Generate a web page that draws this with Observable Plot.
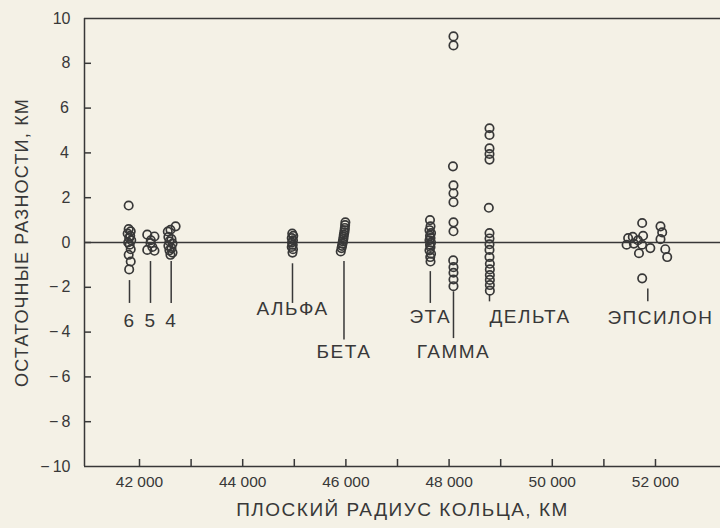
<!DOCTYPE html>
<html><head><meta charset="utf-8">
<script src="https://cdn.jsdelivr.net/npm/d3@7"></script>
<script src="https://cdn.jsdelivr.net/npm/@observablehq/plot@0.6"></script>
<style>
html,body{margin:0;padding:0;background:#f4f1e6;}
</style></head><body><div id="chart"></div>
<script>
// Axis settings
const xDomain = [40934, 53260];
const yDomain = [-10, 10];
const xMinorTicks = [42000, 43000, 44000, 45000, 46000, 47000, 48000, 49000, 50000, 51000, 52000];
const xTickValues = [42000, 44000, 46000, 48000, 50000, 52000];
const xTickLabels = ["42 000", "44 000", "46 000", "48 000", "50 000", "52 000"];
const yTickValues = [-10, -8, -6, -4, -2, 0, 2, 4, 6, 8, 10];
const yTickLabels = ["\u2212\u200910", "\u2212\u20098", "\u2212\u20096", "\u2212\u20094", "\u2212\u20092", "0", "2", "4", "6", "8", "10"];
const xTitle = "ПЛОСКИЙ РАДИУС КОЛЬЦА, КМ";
const yTitle = "ОСТАТОЧНЫЕ РАЗНОСТИ, КМ";

// Ring names and annotation data
const ringNames = ["6", "5", "4", "АЛЬФА", "БЕТА", "ЭТА", "ГАММА", "ДЕЛЬТА", "ЭПСИЛОН"];
const leaderX = [41806, 42213, 42614, 44965, 45963, 47636, 48085, 48783, 51851];
const leaderTop = [-1.7, -0.85, -0.85, -0.95, -0.85, -1.3, -2.2, -2.35, -2.08];
const leaderBottom = [-2.72, -2.72, -2.72, -2.72, -4.35, -2.72, -4.29, -2.65, -2.65];
const labelX = [41806, 42213, 42614, 44965, 45963, 47636, 48085, 48783, 52097];
const labelY = [-3.5, -3.5, -3.5, -2.95, -4.9, -3.3, -4.9, -3.3, -3.35];
const labelAnchor = ["middle", "middle", "middle", "middle", "middle", "middle", "middle", "start", "middle"];

// Residuals per ring: radius (km) and residual (km)
const ring6Radius = [41790, 41790, 41830, 41770, 41820, 41800, 41840, 41780, 41810, 41830, 41790, 41830, 41800];
const ring6Residual = [1.65, 0.6, 0.5, 0.4, 0.3, 0.2, 0.1, 0.0, -0.1, -0.3, -0.55, -0.85, -1.2];
const ring5Radius = [42150, 42290, 42220, 42213, 42150, 42290, 42250];
const ring5Residual = [0.35, 0.27, 0.1, -0.03, -0.33, -0.37, -0.2];
const ring4Radius = [42548, 42600, 42700, 42560, 42620, 42580, 42640, 42560, 42620, 42580, 42640, 42600];
const ring4Residual = [0.49, 0.57, 0.72, 0.25, 0.15, 0.05, -0.05, -0.15, -0.25, -0.35, -0.45, -0.55];
const alphaRadius = [44960, 44980, 44950, 44975, 44955, 44970, 44950, 44975, 44965];
const alphaResidual = [0.4, 0.3, 0.2, 0.1, 0.0, -0.1, -0.2, -0.3, -0.45];
const betaRadius = [45990, 45985, 45980, 45975, 45970, 45960, 45955, 45950, 45940, 45935, 45925, 45915, 45900];
const betaResidual = [0.9, 0.78, 0.65, 0.55, 0.45, 0.35, 0.25, 0.15, 0.05, -0.05, -0.15, -0.25, -0.4];
const etaRadius = [47630, 47640, 47620, 47650, 47630, 47640, 47620, 47650, 47630, 47640, 47620, 47650, 47635, 47640];
const etaResidual = [1.0, 0.72, 0.55, 0.42, 0.3, 0.2, 0.1, 0.0, -0.1, -0.2, -0.35, -0.5, -0.65, -0.85];
const gammaRadius = [48085, 48085, 48075, 48085, 48085, 48085, 48085, 48085, 48080, 48085, 48085, 48085, 48085];
const gammaResidual = [9.2, 8.8, 3.4, 2.55, 2.2, 1.8, 0.9, 0.5, -0.8, -1.1, -1.35, -1.65, -1.95];
const deltaRadius = [48783, 48783, 48783, 48783, 48783, 48770, 48783, 48783, 48783, 48783, 48783, 48790, 48790, 48790, 48790, 48790, 48790];
const deltaResidual = [5.1, 4.8, 4.2, 3.95, 3.7, 1.55, 0.42, 0.18, -0.08, -0.33, -0.65, -0.95, -1.2, -1.45, -1.67, -1.9, -2.15];
const epsilonRadius = [51742, 51470, 51440, 51560, 51580, 51660, 51760, 51740, 51680, 51900, 52097, 52130, 52097, 52190, 52227, 51742];
const epsilonResidual = [0.87, 0.2, -0.1, 0.25, -0.05, 0.1, 0.3, -0.1, -0.48, -0.25, 0.72, 0.45, 0.15, -0.3, -0.65, -1.6];

const groups = [
  [ring6Radius, ring6Residual], [ring5Radius, ring5Residual], [ring4Radius, ring4Residual],
  [alphaRadius, alphaResidual], [betaRadius, betaResidual], [etaRadius, etaResidual],
  [gammaRadius, gammaResidual], [deltaRadius, deltaResidual], [epsilonRadius, epsilonResidual]
];
const points = [];
groups.forEach(([rs, vs], g) => rs.forEach((r, i) => points.push({ring: ringNames[g], radius: r, residual: vs[i]})));

const leaders = ringNames.map((n, i) => ({name: n, x: leaderX[i], y1: leaderTop[i], y2: leaderBottom[i]}));
const labels = ringNames.map((n, i) => ({name: n, x: labelX[i], y: labelY[i], anchor: labelAnchor[i]}));

const ink = "#383838";
const chart = Plot.plot({
  width: 720, height: 528,
  marginLeft: 84, marginRight: 0, marginTop: 18, marginBottom: 62,
  x: {domain: xDomain, label: null},
  y: {domain: yDomain, label: null},
  style: {background: "#f4f1e6", color: ink, fontFamily: "'Liberation Sans', Arial, sans-serif"},
  marks: [
    Plot.ruleY([0], {stroke: ink, strokeWidth: 1.5}),
    Plot.ruleY([yDomain[0], yDomain[1]], {stroke: ink, strokeWidth: 1.5}),
    Plot.ruleX([xDomain[0]], {stroke: ink, strokeWidth: 1.5}),
    Plot.axisY({ticks: yTickValues.filter(v => Math.abs(v) < 10), tickSize: 7, dx: 7, tickFormat: () => "", label: null, stroke: ink, strokeWidth: 1.5}),
    Plot.axisY({ticks: yTickValues, tickSize: 0, tickPadding: 14, tickFormat: d => yTickLabels[yTickValues.indexOf(d)], label: null, fontSize: 16, fill: ink}),
    Plot.axisX({ticks: xMinorTicks, tickSize: 7, dy: -7, tickFormat: () => "", label: null, stroke: ink, strokeWidth: 1.5}),
    Plot.axisX({ticks: xTickValues, tickSize: 0, tickPadding: 9, tickFormat: d => xTickLabels[xTickValues.indexOf(d)], label: null, fontSize: 15.5, fill: ink}),
    Plot.ruleX(leaders, {x: "x", y1: "y1", y2: "y2", stroke: ink, strokeWidth: 1.5}),
    Plot.text(labels.filter(d => d.anchor === "middle"), {x: "x", y: "y", text: "name", fontSize: 19, fill: ink, textAnchor: "middle"}),
    Plot.text(labels.filter(d => d.anchor === "start"), {x: "x", y: "y", text: "name", fontSize: 19, fill: ink, textAnchor: "start"}),
    Plot.dot(points, {x: "radius", y: "residual", r: 4.2, stroke: ink, strokeWidth: 1.7, fill: "none"}),
    Plot.text([yTitle], {text: d => d, frameAnchor: "left", textAnchor: "middle", dx: -62, rotate: -90, fontSize: 18, fill: ink}),
    Plot.text([xTitle], {text: d => d, frameAnchor: "bottom", textAnchor: "middle", dy: 49, fontSize: 19, fill: ink})
  ]
});
// wider letter spacing as in the printed original
const spaced = new Map([[xTitle, "1.5px"], [yTitle, "1.2px"]]);
ringNames.forEach(n => spaced.set(n, "1.5px"));
d3.select(chart).selectAll("text").each(function() {
  const t = this.textContent;
  if (spaced.has(t)) this.style.letterSpacing = spaced.get(t);
});
document.getElementById("chart").appendChild(chart);
</script></body></html>
